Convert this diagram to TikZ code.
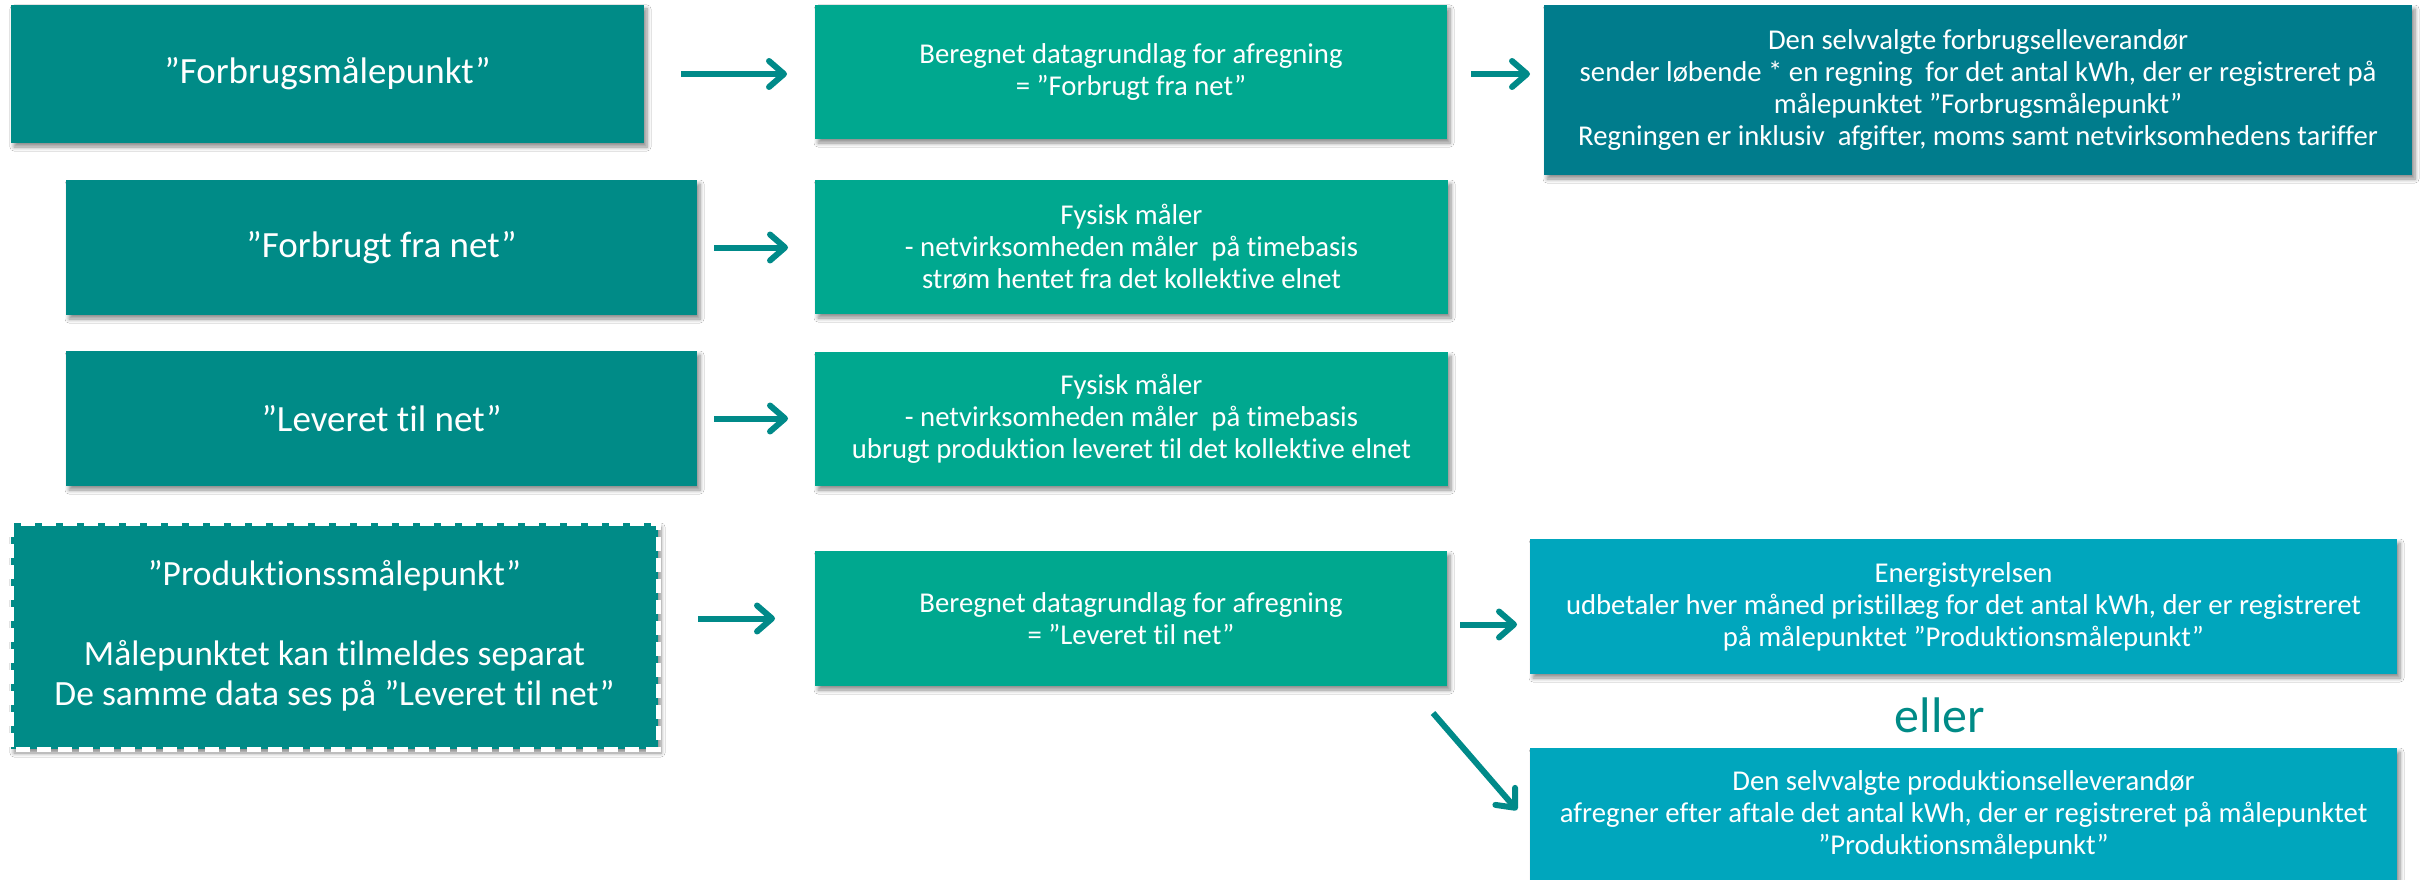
\documentclass[tikz,border=0pt]{standalone}
\usepackage{fontspec}
\setmainfont[Ligatures={NoCommon}]{Carlito}
\usetikzlibrary{arrows.meta,shadows.blur}
\definecolor{tealA}{RGB}{0,139,135}
\definecolor{tealB}{RGB}{0,168,143}
\definecolor{tealC}{RGB}{0,124,140}
\definecolor{tealJ}{RGB}{0,166,189}
\definecolor{arrowc}{RGB}{0,138,137}
\newcommand\ftitle{\fontsize{37}{40}\selectfont}
\newcommand\fprod{\fontsize{35.5}{40}\selectfont}
\newcommand\fbody{\fontsize{28.7}{32}\selectfont}
\newcommand\feller{\fontsize{50}{56}\selectfont}
\begin{document}
\begin{tikzpicture}[x=1pt,y=-1pt,
  box/.style={rectangle, inner sep=0pt, outer sep=0pt, anchor=north west,
    text=white, align=center,
    blur shadow={shadow xshift=3pt, shadow yshift=-4pt, shadow blur radius=4pt, shadow blur steps=6, shadow opacity=45}},
  titlebox/.style={box, fill=tealA, font=\ftitle},
  calcbox/.style={box, fill=tealB, font=\fbody},
  billbox/.style={box, fill=tealC, font=\fbody},
  paybox/.style={box, fill=tealJ, font=\fbody},
  arr/.style={draw=arrowc, line width=6pt, -{Straight Barb[length=15pt, width=26pt, round]}}
]
\fill[white] (0,0) rectangle (2420,880);
\useasboundingbox (0,0) rectangle (2420,880);

% row 1
\node[titlebox, minimum width=633pt, minimum height=138pt] (A) at (11,5) {”Forbrugsmålepunkt”};
\node[calcbox, minimum width=632pt, minimum height=134pt] (B) at (815,5)
  {Beregnet datagrundlag for afregning\\= ”Forbrugt fra net”};
\node[billbox, minimum width=868pt, minimum height=170pt] (C) at (1544,5)
  {Den selvvalgte forbrugselleverandør\\sender løbende * en regning~ for det antal kWh, der er registreret på\\målepunktet ”Forbrugsmålepunkt”\\Regningen er inklusiv~ afgifter, moms samt netvirksomhedens tariffer};

% row 2
\node[titlebox, minimum width=631pt, minimum height=135pt] (D) at (66,180) {”Forbrugt fra net”};
\node[calcbox, minimum width=633pt, minimum height=134pt] (E) at (815,180)
  {Fysisk måler\\- netvirksomheden måler~ på timebasis\\strøm hentet fra det kollektive elnet};

% row 3
\node[titlebox, minimum width=631pt, minimum height=135pt] (F) at (66,351) {”Leveret til net”};
\node[calcbox, minimum width=633pt, minimum height=134pt] (G) at (815,352)
  {Fysisk måler\\- netvirksomheden måler~ på timebasis\\ubrugt produktion leveret til det kollektive elnet};

% row 4
\node[titlebox, font=\fprod, minimum width=647pt, minimum height=226pt] (H) at (11,523)
  {”Produktionssmålepunkt”\\[40pt]Målepunktet kan tilmeldes separat\\De samme data ses på ”Leveret til net”};
\draw[white, line width=5pt, dash pattern=on 14pt off 7pt] (H.north west) rectangle (H.south east);
\node[calcbox, minimum width=632pt, minimum height=135pt] (I) at (815,551)
  {Beregnet datagrundlag for afregning\\= ”Leveret til net”};
\node[paybox, minimum width=867pt, minimum height=135pt] (J) at (1530,539)
  {Energistyrelsen\\udbetaler hver måned pristillæg for det antal kWh, der er registreret\\på målepunktet ”Produktionsmålepunkt”};
\node[font=\feller, text=tealA, anchor=base, inner sep=0pt] (eller) at (1940,732) {eller};
\node[paybox, minimum width=867pt, minimum height=134pt] (K) at (1530,748)
  {Den selvvalgte produktionselleverandør\\afregner efter aftale det antal kWh, der er registreret på målepunktet\\”Produktionsmålepunkt”};

% connectors
\draw[arr, shorten <=37pt, shorten >=28pt] (A.east) -- (A.east -| B.west);
\draw[arr, shorten <=24pt, shorten >=14pt] ([yshift=-2pt]B.east) -- ([yshift=-2pt]B.east -| C.west);
\draw[arr, shorten <=17pt, shorten >=27pt] (D.east) -- (D.east -| E.west);
\draw[arr, shorten <=17pt, shorten >=27pt] (F.east) -- (F.east -| G.west);
\draw[arr, shorten <=40pt, shorten >=40pt] (H.east |- I.west) -- (I.west);
\draw[arr, shorten <=13pt, shorten >=13pt] ([yshift=-6pt]I.east) -- ([yshift=-6pt]I.east -| J.west);
\draw[arr] ([shift={(-14,27)}]I.south east) -- ([shift={(-13,62)}]K.north west);
\end{tikzpicture}
\end{document}
